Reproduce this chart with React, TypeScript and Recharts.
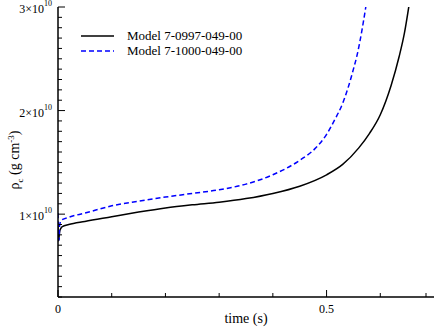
import { LineChart, Line, XAxis, YAxis } from 'recharts'

// central density, units of 1e9 g cm^-3
const BLACK_T = [0, 0.001, 0.002, 0.003, 0.005, 0.008, 0.02, 0.05, 0.1, 0.15, 0.2, 0.25, 0.3, 0.35, 0.4, 0.45, 0.5, 0.53, 0.56, 0.58, 0.6, 0.62, 0.635, 0.645, 0.653]
const BLACK_RHO = [9.2, 7.4, 7.8, 8.3, 8.6, 8.8, 9.0, 9.3, 9.75, 10.2, 10.6, 10.9, 11.15, 11.5, 12.0, 12.7, 13.8, 14.8, 16.4, 17.8, 19.6, 22.4, 25.2, 27.5, 30.0]

const BLUE_T = [0, 0.001, 0.002, 0.003, 0.006, 0.02, 0.05, 0.1, 0.15, 0.2, 0.25, 0.3, 0.35, 0.4, 0.45, 0.48, 0.5, 0.515, 0.53, 0.54, 0.55, 0.557, 0.565, 0.573]
const BLUE_RHO = [10.1, 8.0, 7.5, 8.9, 9.4, 9.7, 10.1, 10.8, 11.25, 11.65, 12.0, 12.35, 12.9, 13.8, 15.2, 16.4, 17.7, 19.1, 20.7, 22.2, 24.0, 25.4, 27.5, 30.0]

const SERIES_NAMES = ['Model 7-0997-049-00', 'Model 7-1000-049-00']

const X_TICKS = [0, 0.1, 0.2, 0.3, 0.4, 0.5, 0.6, 0.7]
const X_MAJOR = [0, 0.5]
const X_LABELS = ['0', '0.5']

const Y_TICKS = Array.from({ length: 29 }, (_, i) => i + 2)
const Y_MAJOR = [10, 20, 30]
const Y_LABELS = ['1×10', '2×10', '3×10']

const blackData = BLACK_T.map((t, i) => ({ t, rho: BLACK_RHO[i] }))
const blueData = BLUE_T.map((t, i) => ({ t, rho: BLUE_RHO[i] }))

const FONT = 'Liberation Serif, DejaVu Serif, serif'
const MAJOR_LEN = 7
const MINOR_LEN = 4

function majorIndex(list: number[], v: number) {
  return list.findIndex((m) => Math.abs(m - v) < 1e-6)
}

function BottomTick(props: any) {
  const { x, y, payload } = props
  const mi = majorIndex(X_MAJOR, payload.value)
  return (
    <g>
      <line x1={x} x2={x} y1={y} y2={y - (mi >= 0 ? MAJOR_LEN : MINOR_LEN)} stroke="#000" />
      {mi >= 0 && (
        <text x={x} y={y + 16} textAnchor="middle" style={{ fontFamily: FONT }} fontSize={12} fill="#000">
          {X_LABELS[mi]}
        </text>
      )}
    </g>
  )
}

function TopTick(props: any) {
  const { x, y, payload } = props
  const mi = majorIndex(X_MAJOR, payload.value)
  return <line x1={x} x2={x} y1={y} y2={y + (mi >= 0 ? MAJOR_LEN : MINOR_LEN)} stroke="#000" />
}

function LeftTick(props: any) {
  const { x, y, payload } = props
  const mi = majorIndex(Y_MAJOR, payload.value)
  return (
    <g>
      <line x1={x} x2={x + (mi >= 0 ? MAJOR_LEN : MINOR_LEN)} y1={y} y2={y} stroke="#000" />
      {mi >= 0 && (
        <text x={x - 14} y={y + 6} textAnchor="end" style={{ fontFamily: FONT }} fontSize={12} fill="#000">
          {Y_LABELS[mi]}
        </text>
      )}
      {mi >= 0 && (
        <text x={x - 14} y={y - 1} textAnchor="start" style={{ fontFamily: FONT }} fontSize={8} fill="#000">
          10
        </text>
      )}
    </g>
  )
}

function RightTick(props: any) {
  const { x, y, payload } = props
  const mi = majorIndex(Y_MAJOR, payload.value)
  return <line x1={x} x2={x - (mi >= 0 ? MAJOR_LEN : MINOR_LEN)} y1={y} y2={y} stroke="#000" />
}

function Legendbox() {
  return (
    <div style={{ position: 'absolute', left: 81, top: 28, fontFamily: FONT, fontSize: 13, lineHeight: '15px' }}>
      {SERIES_NAMES.map((name, i) => (
        <div key={name} style={{ display: 'flex', alignItems: 'center', whiteSpace: 'nowrap' }}>
          <svg width={33} height={15} style={{ marginRight: 13 }}>
            <line
              x1={0}
              x2={33}
              y1={8}
              y2={8}
              stroke={i === 0 ? '#000' : '#0000ff'}
              strokeWidth={1.5}
              strokeDasharray={i === 0 ? undefined : '5 3'}
            />
          </svg>
          <span>{name}</span>
        </div>
      ))}
    </div>
  )
}

export default function App() {
  return (
    <div style={{ position: 'absolute', left: 0, top: 0, width: 436, height: 327, background: '#fff', fontFamily: FONT }}>
      <LineChart width={436} height={327} margin={{ top: 7, right: 2, bottom: 0, left: 0 }} style={{ fontFamily: FONT }}>
        <XAxis
          xAxisId="b"
          dataKey="t"
          type="number"
          domain={[0, 0.7]}
          ticks={X_TICKS}
          height={30}
          tickLine={false}
          tickSize={0}
          tickMargin={0}
          tick={<BottomTick />}
          axisLine={{ stroke: '#000', strokeWidth: 1.5 }}
          allowDataOverflow
        />
        <XAxis
          xAxisId="t"
          orientation="top"
          dataKey="t"
          type="number"
          domain={[0, 0.7]}
          ticks={X_TICKS}
          height={0}
          tickLine={false}
          tickSize={0}
          tickMargin={0}
          tick={<TopTick />}
          axisLine={{ stroke: '#000', strokeWidth: 1.5 }}
          allowDataOverflow
        />
        <YAxis
          yAxisId="l"
          type="number"
          domain={[2, 30]}
          ticks={Y_TICKS}
          width={58}
          tickLine={false}
          tickSize={0}
          tickMargin={0}
          tick={<LeftTick />}
          axisLine={{ stroke: '#000', strokeWidth: 1.5 }}
          interval={0}
          allowDataOverflow
        />
        <YAxis
          yAxisId="r"
          orientation="right"
          type="number"
          domain={[2, 30]}
          ticks={Y_TICKS}
          width={0}
          tickLine={false}
          tickSize={0}
          tickMargin={0}
          tick={<RightTick />}
          axisLine={{ stroke: '#000', strokeWidth: 1.5 }}
          interval={0}
          allowDataOverflow
        />
        <Line
          xAxisId="b"
          yAxisId="l"
          data={blackData}
          dataKey="rho"
          type="monotone"
          stroke="#000"
          strokeWidth={1.5}
          dot={false}
          isAnimationActive={false}
        />
        <Line
          xAxisId="b"
          yAxisId="l"
          data={blueData}
          dataKey="rho"
          type="monotone"
          stroke="#0000ff"
          strokeWidth={1.5}
          strokeDasharray="5 3"
          dot={false}
          isAnimationActive={false}
        />
        <text x={246} y={323} textAnchor="middle" style={{ fontFamily: FONT }} fontSize={14} fill="#000">
          time (s)
        </text>
        <text
          transform="translate(19,160) rotate(-90)"
          textAnchor="middle"
          style={{ fontFamily: FONT }}
          fontSize={14}
          fill="#000"
        >
          ρ<tspan fontSize={9} dy={4}>c</tspan>
          <tspan dy={-4}> (g cm</tspan>
          <tspan fontSize={9} dy={-5}>-3</tspan>
          <tspan dy={5}>)</tspan>
        </text>
      </LineChart>
      <Legendbox />
    </div>
  )
}
